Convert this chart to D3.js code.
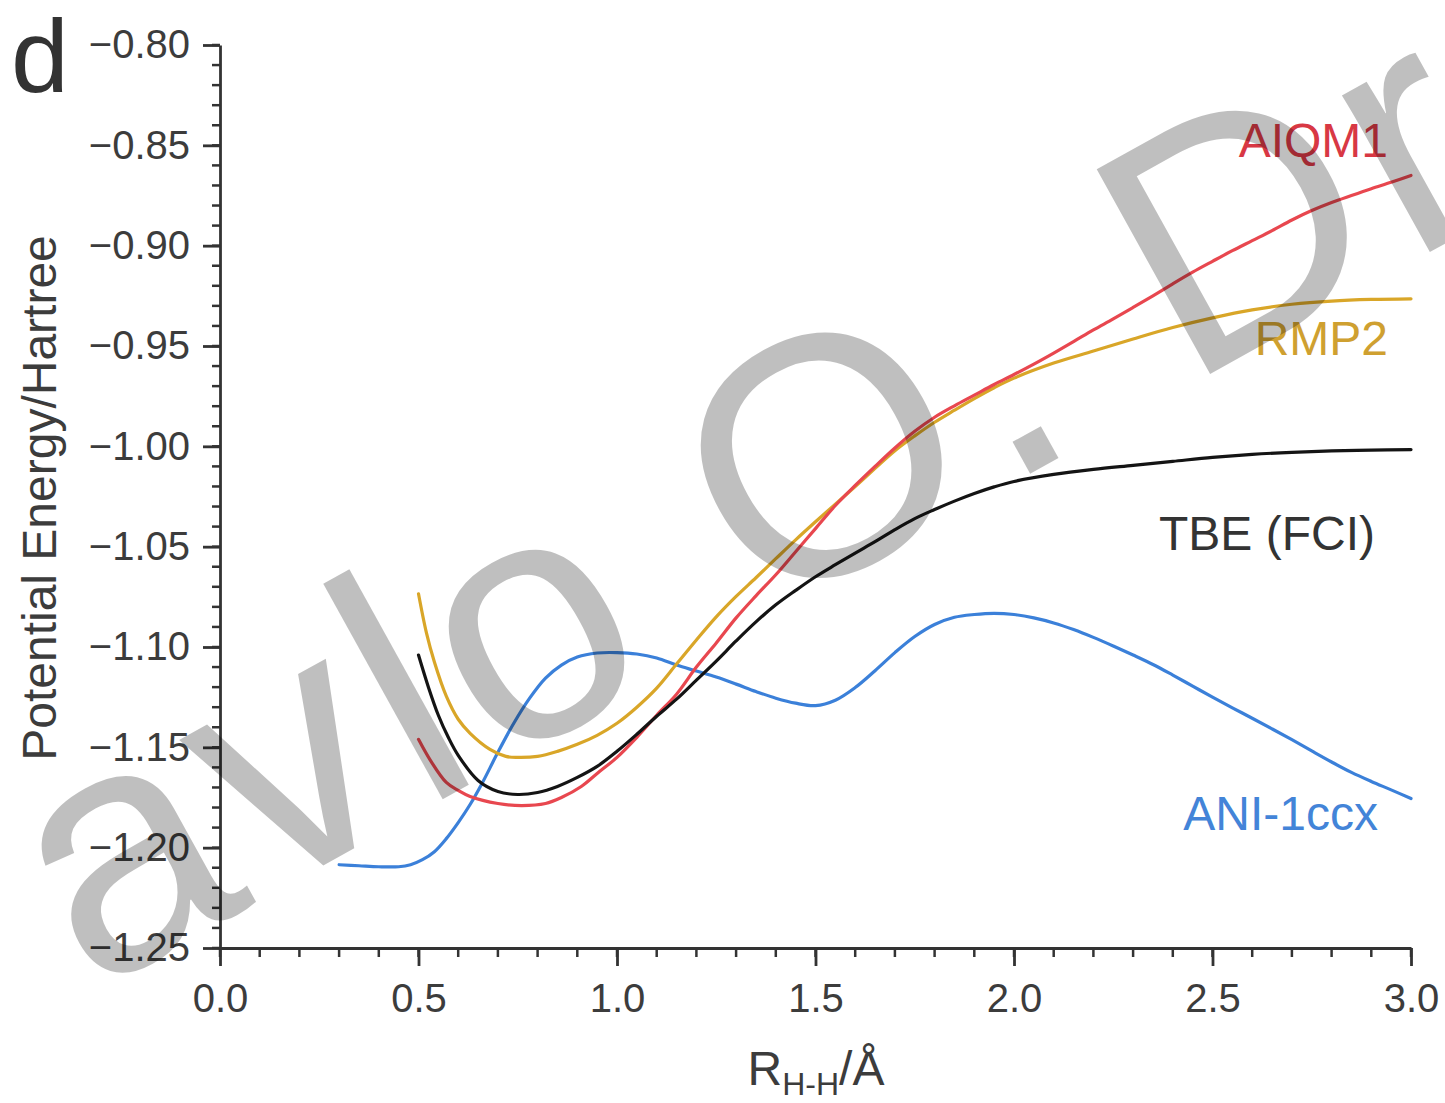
<!DOCTYPE html>
<html>
<head>
<meta charset="utf-8">
<script src="https://cdn.jsdelivr.net/npm/d3@7/dist/d3.min.js"></script>
<style>
  html, body { margin: 0; padding: 0; background: #fff; }
  svg { display: block; }
  text { font-family: "Liberation Sans", Arial, Helvetica, sans-serif; }
</style>
</head>
<body>
<svg id="chart" width="1445" height="1103"></svg>
<script>
// ---- data ----
const tbeX = [0.50,0.525,0.55,0.575,0.60,0.65,0.70,0.75,0.80,0.85,0.90,0.95,1.00,1.05,1.10,1.15,1.20,1.25,1.30,1.35,1.40,1.45,1.50,1.55,1.60,1.65,1.70,1.75,1.80,1.85,1.90,1.95,2.00,2.10,2.20,2.30,2.40,2.50,2.60,2.70,2.80,2.90,3.00];
const tbeY = [-1.104,-1.120,-1.134,-1.145,-1.154,-1.1665,-1.172,-1.1735,-1.1725,-1.1695,-1.165,-1.1595,-1.152,-1.1435,-1.1345,-1.126,-1.1165,-1.107,-1.097,-1.0875,-1.0790,-1.0718,-1.065,-1.059,-1.0532,-1.0475,-1.0415,-1.036,-1.0315,-1.0273,-1.0235,-1.0202,-1.0175,-1.014,-1.0115,-1.0095,-1.0075,-1.0055,-1.0040,-1.0030,-1.0023,-1.0019,-1.0016];

const aiqmX = [0.50,0.53,0.57,0.60,0.63,0.70,0.76,0.82,0.86,0.91,0.95,1.00,1.05,1.10,1.15,1.20,1.25,1.30,1.35,1.40,1.45,1.50,1.55,1.60,1.65,1.70,1.75,1.80,1.85,1.90,1.95,2.00,2.05,2.10,2.15,2.20,2.25,2.30,2.35,2.40,2.45,2.50,2.55,2.60,2.65,2.70,2.75,2.80,2.85,2.90,2.95,3.00];
const aiqmY = [-1.146,-1.1565,-1.1675,-1.1715,-1.1745,-1.178,-1.179,-1.178,-1.175,-1.1695,-1.163,-1.155,-1.145,-1.134,-1.1235,-1.110,-1.098,-1.0855,-1.0745,-1.0640,-1.0525,-1.041,-1.0295,-1.0195,-1.010,-1.0008,-0.9925,-0.9855,-0.9798,-0.9745,-0.9692,-0.9642,-0.9590,-0.9535,-0.9478,-0.9420,-0.9365,-0.9308,-0.9250,-0.9190,-0.9132,-0.9078,-0.9025,-0.8975,-0.8925,-0.8872,-0.8825,-0.8785,-0.8750,-0.8716,-0.8684,-0.8650];

const rmp2X = [0.50,0.52,0.54,0.57,0.60,0.63,0.68,0.72,0.75,0.80,0.85,0.90,0.95,1.00,1.05,1.10,1.15,1.20,1.25,1.30,1.35,1.40,1.45,1.50,1.55,1.60,1.65,1.70,1.75,1.80,1.85,1.90,1.95,2.00,2.10,2.20,2.30,2.40,2.50,2.60,2.70,2.80,2.90,3.00];
const rmp2Y = [-1.0735,-1.093,-1.1075,-1.1245,-1.136,-1.143,-1.151,-1.1545,-1.155,-1.1545,-1.152,-1.1485,-1.144,-1.138,-1.130,-1.1205,-1.1085,-1.0965,-1.0850,-1.0748,-1.0655,-1.0560,-1.0466,-1.0376,-1.0288,-1.0200,-1.0110,-1.0022,-0.9948,-0.9880,-0.9820,-0.9762,-0.9708,-0.9660,-0.9585,-0.9525,-0.9465,-0.9408,-0.9360,-0.9320,-0.9292,-0.9276,-0.9268,-0.9265];

const aniX = [0.30,0.35,0.40,0.45,0.48,0.51,0.54,0.57,0.60,0.63,0.66,0.70,0.74,0.78,0.82,0.86,0.90,0.95,1.00,1.05,1.10,1.15,1.20,1.25,1.30,1.35,1.40,1.45,1.50,1.55,1.60,1.65,1.70,1.75,1.80,1.85,1.90,1.95,2.00,2.05,2.10,2.15,2.20,2.25,2.30,2.35,2.40,2.45,2.50,2.55,2.60,2.65,2.70,2.75,2.80,2.85,2.90,2.95,3.00];
const aniY = [-1.2085,-1.209,-1.2095,-1.2095,-1.2085,-1.206,-1.202,-1.1955,-1.1875,-1.1785,-1.168,-1.1525,-1.138,-1.1255,-1.1155,-1.109,-1.105,-1.103,-1.1028,-1.1035,-1.1055,-1.109,-1.112,-1.115,-1.1185,-1.1222,-1.1255,-1.1280,-1.1292,-1.1265,-1.1202,-1.1118,-1.1028,-1.0948,-1.0888,-1.0852,-1.0838,-1.0832,-1.0838,-1.0855,-1.0880,-1.0913,-1.0952,-1.0995,-1.1040,-1.1087,-1.1140,-1.1195,-1.1250,-1.1303,-1.1355,-1.1408,-1.1462,-1.1518,-1.1573,-1.1625,-1.1670,-1.1712,-1.1755];

const xTicks = [0.0,0.5,1.0,1.5,2.0,2.5,3.0];
const yTicks = [-0.80,-0.85,-0.90,-0.95,-1.00,-1.05,-1.10,-1.15,-1.20,-1.25];
const seriesNames = ["AIQM1","RMP2","TBE (FCI)","ANI-1ccx"];
const lineColors = ["#e8474f","#d9a628","#141414","#3b80d9"];
const labelColors = ["#d83844","#cfa030","#333333","#4384d8"];

// ---- layout ----
const svg = d3.select("#chart");
const W = 1445, H = 1103;
svg.append("rect").attr("width", W).attr("height", H).attr("fill", "#fff");

const x = d3.scaleLinear().domain([0, 3]).range([220, 1411]);
const y = d3.scaleLinear().domain([-1.25, -0.80]).range([948, 45]);

const axisColor = "#333";
const tickFont = 40;

// minor ticks
const yMinor = d3.range(0, 46).map(i => -0.80 - i * 0.01);
const xMinor = d3.range(0, 31).map(i => i * 0.1);

const gY = svg.append("g").attr("transform", "translate(220,0)");
gY.selectAll("line.minor").data(yMinor).join("line")
  .attr("x1", -8).attr("x2", 0)
  .attr("y1", d => y(d)).attr("y2", d => y(d))
  .attr("stroke", axisColor).attr("stroke-width", 2.5);
gY.call(d3.axisLeft(y).tickValues(yTicks).tickFormat(d3.format(".2f")).tickSize(17).tickSizeOuter(0).tickPadding(13));

const gX = svg.append("g").attr("transform", "translate(0,948)");
gX.selectAll("line.minor").data(xMinor).join("line")
  .attr("y1", 0).attr("y2", 9)
  .attr("x1", d => x(d)).attr("x2", d => x(d))
  .attr("stroke", axisColor).attr("stroke-width", 2.5);
gX.call(d3.axisBottom(x).tickValues(xTicks).tickFormat(d3.format(".1f")).tickSize(18).tickSizeOuter(0).tickPadding(18));

[gX, gY].forEach(g => {
  g.select(".domain").attr("stroke", axisColor).attr("stroke-width", 2.8);
  g.selectAll(".tick line").attr("stroke", axisColor).attr("stroke-width", 2.8);
  g.selectAll(".tick text").attr("fill", "#3c3c3c")
    .style("font-size", tickFont + "px")
    .style("font-family", '"Liberation Sans", Arial, sans-serif');
});

// ---- curves ----
const line = d3.line().x(d => x(d[0])).y(d => y(d[1])).curve(d3.curveCatmullRom.alpha(0.5));
const series = [
  aiqmX.map((v, i) => [v, aiqmY[i]]),
  rmp2X.map((v, i) => [v, rmp2Y[i]]),
  tbeX.map((v, i) => [v, tbeY[i]]),
  aniX.map((v, i) => [v, aniY[i]])
];
const drawOrder = [3, 1, 0, 2];
drawOrder.forEach(k => {
  svg.append("path").datum(series[k])
    .attr("d", line).attr("fill", "none")
    .attr("stroke", lineColors[k]).attr("stroke-width", 3.2)
    .attr("stroke-linejoin", "round").attr("stroke-linecap", "round");
});

// ---- series labels ----
const labelPos = [[1388, 157], [1388, 355], [1375, 550], [1378, 830]];
seriesNames.forEach((n, k) => {
  svg.append("text").attr("x", labelPos[k][0]).attr("y", labelPos[k][1])
    .attr("text-anchor", "end").attr("fill", labelColors[k])
    .style("font-size", "48px").text(n);
});

// ---- axis titles ----
svg.append("text")
  .attr("transform", "translate(56,498) rotate(-90)")
  .attr("text-anchor", "middle").attr("fill", "#3c3c3c")
  .style("font-size", "48px").text("Potential Energy/Hartree");

const xt = svg.append("text").attr("x", 816).attr("y", 1085)
  .attr("text-anchor", "middle").attr("fill", "#3c3c3c").style("font-size", "48px");
xt.append("tspan").text("R");
xt.append("tspan").attr("dy", 10).style("font-size", "32px").text("H-H");
xt.append("tspan").attr("dy", -10).text("/Å");

// panel letter
svg.append("text").attr("x", 11).attr("y", 92).attr("fill", "#333")
  .style("font-size", "104px").text("d");

// ---- watermark ----
svg.append("text")
  .attr("transform", "translate(-116,1109) rotate(-29)")
  .attr("fill", "#000").attr("fill-opacity", 0.25)
  .style("letter-spacing", "10px")
  .style("font-size", "340px").text("Pavlo O. Dral");
</script>
</body>
</html>
